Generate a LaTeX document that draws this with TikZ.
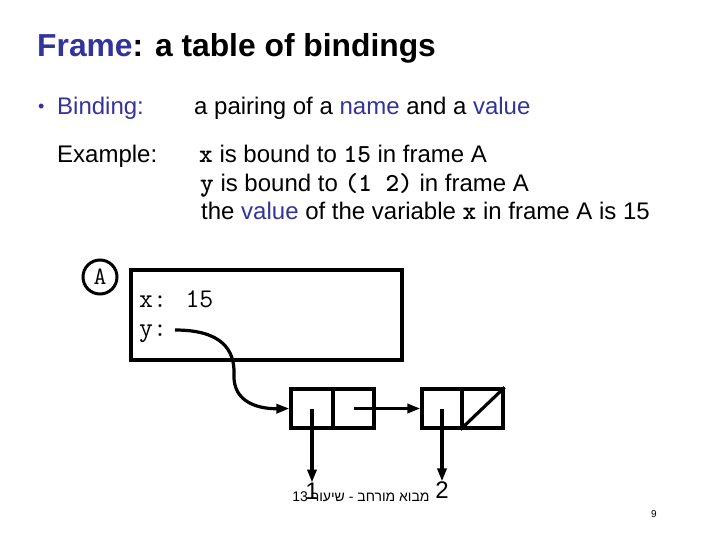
\documentclass[tikz,border=0pt]{standalone}
\usepackage{fontspec}
\setmainfont{Liberation Sans}
\newfontfamily\hebfont[Script=Hebrew]{Liberation Sans}
\TeXXeTstate=1
\usetikzlibrary{arrows.meta}
\definecolor{tblue}{RGB}{51,51,153}
\newcommand{\cw}[1]{{\fontsize{26}{28}\selectfont\ttfamily\bfseries #1}}
\begin{document}
\begin{tikzpicture}[x=1pt,y=-1pt,
  txt/.style={anchor=base west,inner sep=0pt,font=\fontsize{24}{28}\selectfont},
  mono/.style={anchor=base west,inner sep=0pt,font=\fontsize{27}{30}\selectfont\ttfamily},
  cell/.style={draw,line width=3.2pt,minimum height=39pt,inner sep=0pt},
  ptr/.style={line width=3.2pt,-{Triangle[length=13pt,width=9pt]}}]
\useasboundingbox (0,0) rectangle (720,540);
% title
\node[anchor=base west,inner sep=0pt,font=\fontsize{31.8}{38}\selectfont\bfseries] (title) at (37,57)
  {\textcolor{tblue}{Frame}: a table of bindings};
% bullet line
\node[txt,text=tblue,font=\fontsize{18}{20}\selectfont] (bul) at (38,113) {\textbullet};
\node[txt,text=tblue] (bind) at (57,115) {Binding:};
\node[txt] (def) at (194,115) {a pairing of a \textcolor{tblue}{name} and a \textcolor{tblue}{value}};
\node[txt] (ex) at (57,163) {Example:};
\node[txt] (l1) at (199,163) {\cw{x} is bound to \cw{15} in frame A};
\node[txt] (l2) at (200,192) {\cw{y} is bound to \cw{(1 2)} in frame A};
\node[txt] (l3) at (201,220) {the \textcolor{tblue}{value} of the variable \cw{x} in frame A is 15};
% frame
\node[draw,circle,line width=3pt,minimum size=34pt,inner sep=0pt,font=\fontsize{25}{28}\selectfont\ttfamily] (A) at (100,277) {A};
\node[draw,line width=3.2pt,minimum width=271pt,minimum height=90pt,inner sep=0pt] (frame) at (266.5,315) {};
\node[mono] (xb) at (139,307) {x: 15};
\node[mono] (yb) at (139,336) {y:};
% cons cells
\node[cell,minimum width=42pt] (car1) at (312,408.5) {};
\node[cell,minimum width=41pt] (cdr1) at (353.5,408.5) {};
\node[cell,minimum width=40pt] (car2) at (442,408.5) {};
\node[cell,minimum width=41pt] (cdr2) at (482.5,408.5) {};
\draw[line width=3.2pt] (cdr2.south west) -- (cdr2.north east);
% pointers
\coordinate (ys) at (175,330);
\draw[ptr] (ys) .. controls (222,330) and (235,350) .. (234,375)
  .. controls (233,402) and (258,409) .. (car1.west);
\node[inner sep=0pt,font=\fontsize{24}{28}\selectfont] (one) at (312,491) {1};
\node[inner sep=0pt,font=\fontsize{24}{28}\selectfont] (two) at (442,490) {2};
\draw[ptr] (car1.center) -- (one.north);
\draw[ptr] (cdr1.center) -- (car2.west);
\draw[ptr] (car2.center) -- (two.north);
% footer
\node[inner sep=0pt,font=\fontsize{14}{16}\selectfont\hebfont] (foot) at (361,497)
  {\beginR מבוא מורחב - שיעור \beginL 13\endL\endR};
\node[inner sep=0pt,font=\fontsize{10}{12}\selectfont] (pg) at (654,514) {9};
\end{tikzpicture}
\end{document}
